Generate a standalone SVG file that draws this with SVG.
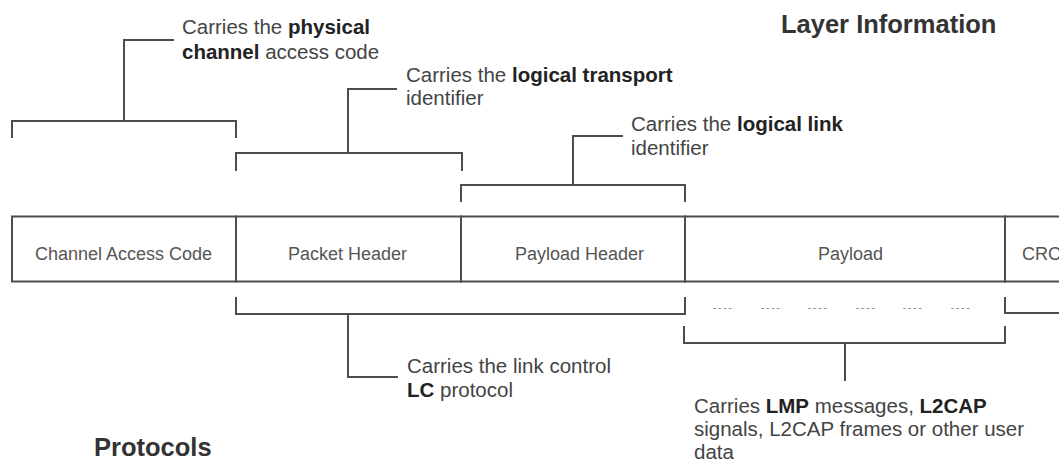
<svg xmlns="http://www.w3.org/2000/svg" width="1059" height="461" viewBox="0 0 1059 461">
<style>
.ln{fill:none;stroke:#4d4d4d;stroke-width:2;stroke-linecap:square}
.box{fill:#fff;stroke:#4d4d4d;stroke-width:2}
.lbl{font-family:"Liberation Sans",Arial,sans-serif;font-size:18px;fill:#555}
.ann{font-family:"Liberation Sans",Arial,sans-serif;font-size:20.5px;fill:#444}
.ann .b{font-weight:bold;fill:#222}
.ttl{font-family:"Liberation Sans",Arial,sans-serif;font-size:25.5px;font-weight:bold;fill:#333}
.dash{font-family:"Liberation Sans",Arial,sans-serif;font-size:11px;fill:#888;letter-spacing:1.5px;text-anchor:middle}
</style>
<rect width="1059" height="461" fill="#fff"/>
<g id="packet">
<rect class="box" x="12" y="216.5" width="1070" height="65"/>
<line class="ln" x1="236" y1="216.5" x2="236" y2="281.5"/>
<line class="ln" x1="461" y1="216.5" x2="461" y2="281.5"/>
<line class="ln" x1="685" y1="216.5" x2="685" y2="281.5"/>
<line class="ln" x1="1005" y1="216.5" x2="1005" y2="281.5"/>
</g>
<g id="n-cac"><text class="lbl" x="35" y="260">Channel Access Code</text></g>
<g id="n-ph"><text class="lbl" x="288" y="260">Packet Header</text></g>
<g id="n-plh"><text class="lbl" x="515" y="260">Payload Header</text></g>
<g id="n-pl"><text class="lbl" x="818" y="260">Payload</text></g>
<g id="n-crc"><text class="lbl" x="1022" y="260">CRC</text></g>
<g id="connectors">
<path class="ln" d="M12,137 V121 H236 V137"/>
<path class="ln" d="M124,121 V40 H173"/>
<path class="ln" d="M236,170 V153 H462 V170"/>
<path class="ln" d="M348,153 V89 H396"/>
<path class="ln" d="M461,201 V185 H685 V201"/>
<path class="ln" d="M573,185 V136 H622"/>
<path class="ln" d="M236,298 V314 H685 V298"/>
<path class="ln" d="M348,314 V377 H397"/>
<path class="ln" d="M684,327 V343 H1005 V327"/>
<path class="ln" d="M845,343 V380"/>
<path class="ln" d="M1005,298 V313 H1070"/>
</g>
<g id="dashes">
<text class="dash" x="723" y="311">----</text>
<text class="dash" x="771" y="311">----</text>
<text class="dash" x="818" y="311">----</text>
<text class="dash" x="866" y="311">----</text>
<text class="dash" x="913" y="311">----</text>
<text class="dash" x="961" y="311">----</text>
</g>
<g id="a-phys">
<text class="ann" x="182" y="33.5">Carries the <tspan class="b">physical</tspan></text>
<text class="ann" x="182" y="58.5"><tspan class="b">channel</tspan> access code</text>
</g>
<g id="a-lt">
<text class="ann" x="406" y="81.5">Carries the <tspan class="b">logical transport</tspan></text>
<text class="ann" x="406" y="105">identifier</text>
</g>
<g id="a-ll">
<text class="ann" x="631" y="131">Carries the <tspan class="b">logical link</tspan></text>
<text class="ann" x="631" y="155">identifier</text>
</g>
<g id="a-lc">
<text class="ann" x="407" y="373">Carries the link control</text>
<text class="ann" x="407" y="397"><tspan class="b">LC</tspan> protocol</text>
</g>
<g id="a-lmp">
<text class="ann" x="694" y="413"><tspan>Carries </tspan><tspan class="b">LMP</tspan><tspan> messages, </tspan><tspan class="b">L2CAP</tspan></text>
<text class="ann" x="694" y="436">signals, L2CAP frames or other user</text>
<text class="ann" x="694" y="458.5">data</text>
</g>
<g id="t-layer"><text class="ttl" x="781" y="33">Layer Information</text></g>
<g id="t-proto"><text class="ttl" x="94" y="455.5">Protocols</text></g>
</svg>
